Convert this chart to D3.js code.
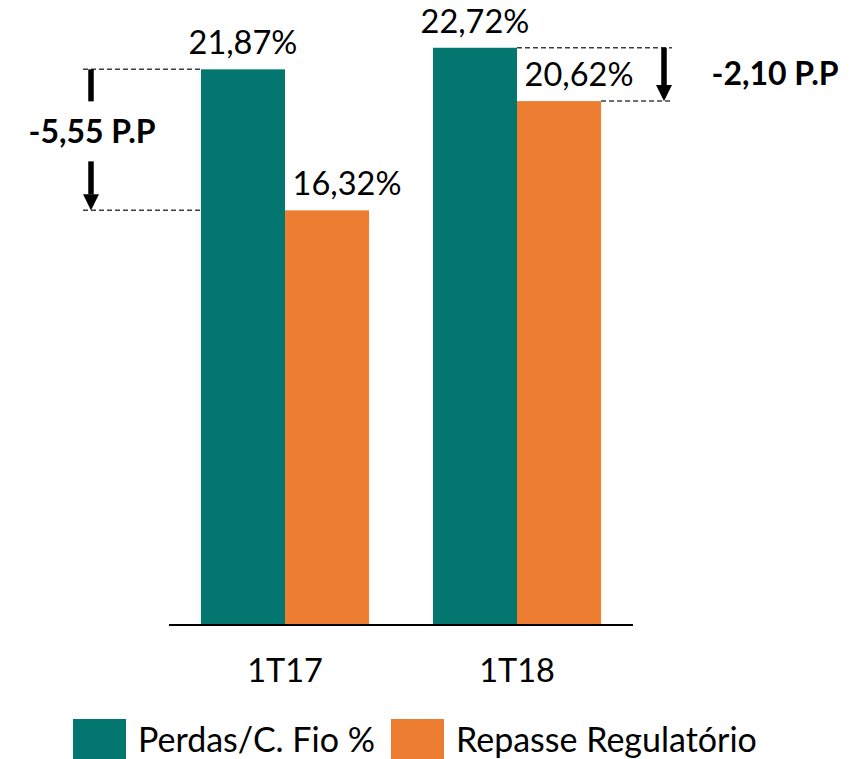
<!DOCTYPE html>
<html>
<head>
<meta charset="utf-8">
<script src="https://cdn.jsdelivr.net/npm/d3@7"></script>
<style>
  html, body { margin: 0; padding: 0; background: #ffffff; }
  svg { display: block; }
  text { font-family: Lato, "Open Sans", sans-serif; fill: #000; }
</style>
</head>
<body>
<svg id="chart" width="868" height="759"></svg>
<script>
// ---- data ----
const categories = ["1T17", "1T18"];
const seriesNames = ["Perdas/C. Fio %", "Repasse Regulatório"];
const perdas = [21.87, 22.72];
const repasse = [16.32, 20.62];
const valueLabels = [["21,87%", "16,32%"], ["22,72%", "20,62%"]];
const deltaLabels = ["-5,55 P.P", "-2,10 P.P"];
const colors = ["#03776F", "#ED7D31"];

// ---- layout ----
const svg = d3.select("#chart");
const baseY = 625;
const y = d3.scaleLinear().domain([0, 24.6]).range([baseY, 0]);
const x0 = d3.scaleBand().domain(categories).range([169, 633]).paddingInner(0).paddingOuter(0);
const x1 = d3.scaleBand().domain(seriesNames).range([0, x0.bandwidth()]).paddingInner(0).paddingOuter(0.38);

const rows = categories.map((c, i) => ({
  cat: c,
  vals: [perdas[i], repasse[i]],
  labels: valueLabels[i]
}));

// bars
const g = svg.append("g");
rows.forEach((r) => {
  seriesNames.forEach((s, j) => {
    g.append("rect")
      .attr("x", x0(r.cat) + x1(s))
      .attr("y", y(r.vals[j]))
      .attr("width", x1.bandwidth())
      .attr("height", baseY - y(r.vals[j]))
      .attr("fill", colors[j]);
    g.append("text")
      .attr("x", x0(r.cat) + x1(s) + x1.bandwidth() / 2 + (j === 1 ? 20 : 0))
      .attr("y", y(r.vals[j]) - 15)
      .attr("text-anchor", "middle")
      .attr("font-size", 32.5)
      .text(r.labels[j]);
  });
});

// x axis
const xAxis = d3.axisBottom(x0).tickSize(0).tickPadding(0);
const ax = svg.append("g").attr("transform", `translate(0,${baseY})`).call(xAxis);
ax.select(".domain").attr("stroke", "#000").attr("stroke-width", 2.2).attr("d", "M169,0H633");
ax.selectAll(".tick text")
  .attr("font-size", 32.5)
  .attr("dy", null)
  .attr("y", 57)
  .style("font-family", "Lato, 'Open Sans', sans-serif")
  .attr("fill", "#000");

// arrowhead marker
const defs = svg.append("defs");
defs.append("marker")
  .attr("id", "arr")
  .attr("viewBox", "0 0 16 16")
  .attr("refX", 8).attr("refY", 0)
  .attr("markerWidth", 16).attr("markerHeight", 16)
  .attr("markerUnits", "userSpaceOnUse")
  .attr("orient", "0")
  .append("path").attr("d", "M0,0 L16,0 L8,16 Z").attr("fill", "#000");

const dash = (x1p, x2p, yp) => svg.append("line")
  .attr("x1", x1p).attr("x2", x2p).attr("y1", yp).attr("y2", yp)
  .attr("stroke", "#3f3f3f").attr("stroke-width", 1.5).attr("stroke-dasharray", "5,3");

// left annotation (1T17)
{
  const top = y(perdas[0]), bot = y(repasse[0]);
  const barLeft = x0(categories[0]) + x1(seriesNames[0]);
  const ax_ = 91;
  dash(83, barLeft, top);
  dash(83, barLeft, bot);
  svg.append("line").attr("x1", ax_).attr("x2", ax_).attr("y1", top).attr("y2", top + 32)
    .attr("stroke", "#000").attr("stroke-width", 5.5);
  svg.append("line").attr("x1", ax_).attr("x2", ax_).attr("y1", top + 92).attr("y2", bot - 16)
    .attr("stroke", "#000").attr("stroke-width", 5.5).attr("marker-end", "url(#arr)");
  svg.append("text").attr("x", 92).attr("y", 143).attr("text-anchor", "middle")
    .attr("font-size", 32).attr("font-weight", "bold").text(deltaLabels[0]);
}

// right annotation (1T18)
{
  const top = y(perdas[1]), bot = y(repasse[1]);
  const tealRight = x0(categories[1]) + x1(seriesNames[0]) + x1.bandwidth();
  const orRight = x0(categories[1]) + x1(seriesNames[1]) + x1.bandwidth();
  const ax_ = 664;
  dash(tealRight, 672, top);
  dash(orRight, 672, bot);
  svg.append("line").attr("x1", ax_).attr("x2", ax_).attr("y1", top).attr("y2", bot - 16)
    .attr("stroke", "#000").attr("stroke-width", 5.5).attr("marker-end", "url(#arr)");
  svg.append("text").attr("x", 775).attr("y", 85).attr("text-anchor", "middle")
    .attr("font-size", 32).attr("font-weight", "bold").text(deltaLabels[1]);
}

// legend
const legendX = [73, 391];
seriesNames.forEach((s, j) => {
  svg.append("rect").attr("x", legendX[j]).attr("y", 719).attr("width", 53).attr("height", 53)
    .attr("fill", colors[j]);
  svg.append("text").attr("x", legendX[j] + 65).attr("y", 752)
    .attr("font-size", 34).text(s);
});
</script>
</body>
</html>
